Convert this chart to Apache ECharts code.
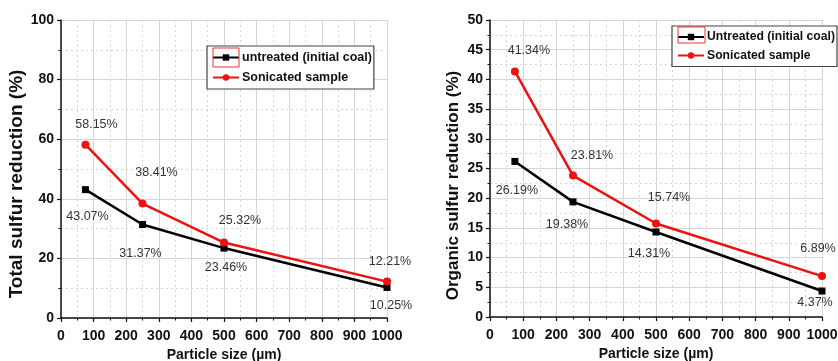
<!DOCTYPE html>
<html>
<head>
<meta charset="utf-8">
<script src="https://cdn.jsdelivr.net/npm/echarts@6/dist/echarts.min.js"></script>
<style>
  html, body { margin: 0; padding: 0; background: #fff; }
  #chart { width: 838px; height: 361px; }
</style>
</head>
<body>
<div id="chart"></div>
<script>
// particle sizes (µm)
const sizes = [75, 250, 500, 1000];
// total sulfur reduction (%)
const totalUntreated = [43.07, 31.37, 23.46, 10.25];
const totalSonicated = [58.15, 38.41, 25.32, 12.21];
// organic sulfur reduction (%)
const orgUntreated = [26.19, 19.38, 14.31, 4.37];
const orgSonicated = [41.34, 23.81, 15.74, 6.89];

const seriesNames = ["untreated (initial coal)", "Sonicated sample"];
const seriesNamesRight = ["Untreated (initial coal)", "Sonicated sample"];

// label offsets relative to each point (px)
const offTotU = [[2, 27], [-2, 29], [2, 19], [4, 18]];
const offTotS = [[11, -20], [14, -31], [16, -22], [3, -20]];
const offOrgU = [[2, 29], [-6, 23], [-7, 22], [-7, 12]];
const offOrgS = [[14, -21], [19, -20], [13, -26], [-4, -28]];

const FONT = "'Liberation Sans', Arial, sans-serif";

function pts(vals, offs) {
  return vals.map((v, i) => ({
    value: [sizes[i], v],
    label: {show: true, position: "inside", offset: offs[i], formatter: v.toFixed(2) + "%"}
  }));
}

function mkSeries(name, vals, offs, color, symbol, idx) {
  return {
    name: name,
    type: "line",
    xAxisIndex: idx,
    yAxisIndex: idx,
    symbol: symbol,
    symbolSize: symbol === "rect" ? 7 : 8,
    lineStyle: {color: color, width: 2.5},
    itemStyle: {color: color},
    label: {color: "#333", fontSize: 12.5, fontFamily: FONT},
    data: pts(vals, offs),
    z: 3
  };
}

const xBase = {
  type: "value",
  min: 0, max: 1000, interval: 100,
  name: "Particle size (µm)",
  nameLocation: "middle",
  nameGap: 29,
  nameTextStyle: {fontWeight: "bold", fontSize: 14, color: "#111", fontFamily: FONT},
  axisLine: {show: true, onZero: false, lineStyle: {color: "#111", width: 1.5}},
  axisTick: {show: true, length: 4, lineStyle: {color: "#111", width: 1.2}},
  minorTick: {show: true, splitNumber: 2, length: 2.5, lineStyle: {color: "#111"}},
  axisLabel: {color: "#111", fontWeight: "bold", fontSize: 14, fontFamily: FONT, margin: 11,
              formatter: v => String(v)},
  splitLine: {show: true, lineStyle: {color: "#d6d6d6", width: 1}},
  minorSplitLine: {show: true, lineStyle: {color: "#d6d6d6", type: [2, 3], width: 1}}
};

function yAxis(name, max, interval, gap, fs, shift, idx) {
  return {
    type: "value",
    gridIndex: idx,
    min: 0, max: max, interval: interval,
    name: name,
    nameLocation: "middle",
    nameGap: gap,
    nameTextStyle: {fontWeight: "bold", fontSize: fs, color: "#111", fontFamily: FONT,
                    padding: [0, shift, 0, 0]},
    axisLine: {show: true, lineStyle: {color: "#111", width: 1.5}},
    axisTick: {show: true, length: 4, lineStyle: {color: "#111", width: 1.2}},
    minorTick: {show: true, splitNumber: 2, length: 2.5, lineStyle: {color: "#111"}},
    axisLabel: {color: "#111", fontWeight: "bold", fontSize: 14, fontFamily: FONT, margin: 7},
    splitLine: {show: true, lineStyle: {color: "#d6d6d6", width: 1}},
    minorSplitLine: {show: true, lineStyle: {color: "#d6d6d6", type: [2, 3], width: 1}}
  };
}

function legend(names, left, top, gap, fs) {
  return {
    show: true,
    data: names,
    orient: "vertical",
    left: left,
    top: top,
    itemWidth: 26,
    itemHeight: 8,
    itemGap: gap,
    padding: [5, 2, 5, 5],
    borderColor: "#444",
    borderWidth: 1.2,
    borderRadius: 0,
    backgroundColor: "#fff",
    textStyle: {fontWeight: "bold", fontSize: fs, color: "#111", fontFamily: FONT, padding: [0, 0, 0, -2]}
  };
}

const chart = echarts.init(document.getElementById("chart"), null, {renderer: "canvas"});
chart.setOption({
  animation: false,
  backgroundColor: "#fff",
  grid: [
    {left: 61, top: 20, width: 326, height: 298, outerBoundsMode: "none", containLabel: false},
    {left: 490, top: 20, width: 332, height: 297, outerBoundsMode: "none", containLabel: false}
  ],
  xAxis: [
    Object.assign({}, xBase, {gridIndex: 0}),
    Object.assign({}, xBase, {gridIndex: 1})
  ],
  yAxis: [
    yAxis("Total sulfur reduction (%)", 100, 20, 30, 19, 30, 0),
    yAxis("Organic sulfur reduction (%)", 50, 5, 28, 17, 34, 1)
  ],
  legend: [
    legend(seriesNames, 207, 46, 7, 12.5),
    legend(seriesNamesRight, 672, 26, 6.5, 12.2)
  ],
  graphic: [
    {type: "rect", shape: {x: 213, y: 48, width: 26, height: 19},
     style: {fill: null, stroke: "#e33", lineWidth: 1}, z: 100},
    {type: "rect", shape: {x: 678, y: 27, width: 27, height: 16},
     style: {fill: null, stroke: "#e33", lineWidth: 1}, z: 100}
  ],
  series: [
    mkSeries(seriesNames[0], totalUntreated, offTotU, "#000", "rect", 0),
    mkSeries(seriesNames[1], totalSonicated, offTotS, "#ee1111", "circle", 0),
    mkSeries(seriesNamesRight[0], orgUntreated, offOrgU, "#000", "rect", 1),
    mkSeries(seriesNamesRight[1], orgSonicated, offOrgS, "#ee1111", "circle", 1)
  ]
});
</script>
</body>
</html>
